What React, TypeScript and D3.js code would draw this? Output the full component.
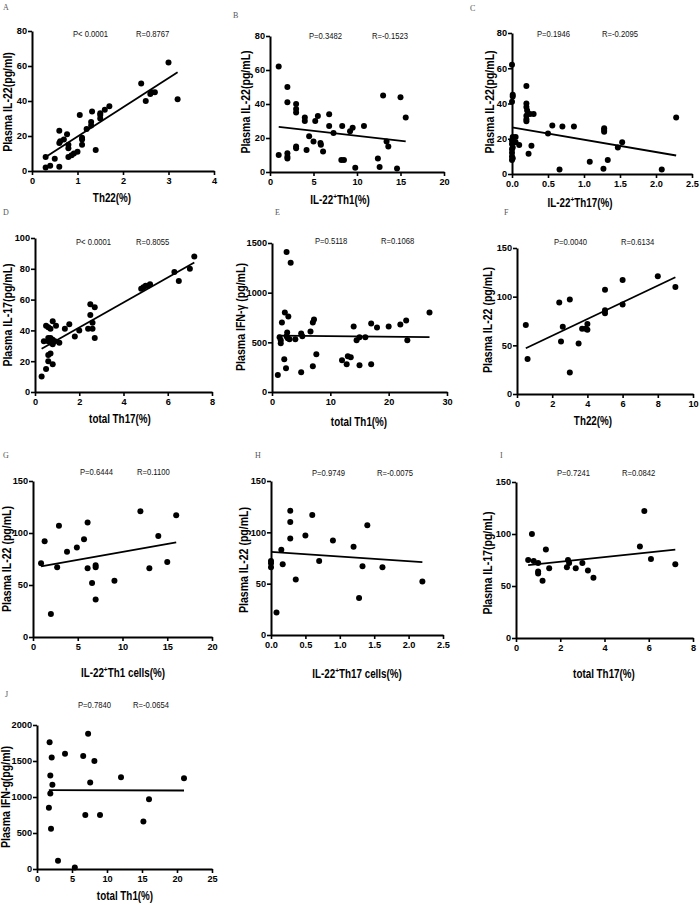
import { useEffect, useRef } from 'react';
import * as d3 from 'd3';

// scatter data, [x, y]
const th22VsIl22 = [
  [0.3, 8], [0.3, 2], [0.4, 3], [0.5, 7], [0.6, 2.5], [0.6, 16], [0.62, 17], [0.6, 23], [0.7, 18],
  [0.77, 21], [0.8, 15], [0.8, 13], [0.8, 8], [0.87, 9], [0.92, 10], [1.0, 11], [1.05, 32], [1.1, 18],
  [1.1, 15], [1.1, 19], [1.2, 24], [1.3, 26], [1.3, 28], [1.32, 34], [1.4, 12], [1.5, 30], [1.5, 32],
  [1.5, 33], [1.6, 35], [1.7, 37], [2.4, 50], [2.5, 40], [2.6, 44], [2.63, 45], [2.7, 45], [3.0, 62], [3.2, 41],
];
const il22Th1VsIl22 = [
  [1, 62], [1, 10], [2, 50], [2, 41], [2, 11], [2, 9], [2, 8], [3, 40], [3, 37], [3, 35], [3, 15], [3, 14],
  [4, 32], [4, 30], [4.2, 13], [4.5, 21], [5, 18], [5.2, 30], [5.5, 33], [5.8, 17], [5.85, 16], [6.1, 12],
  [6.8, 34], [6.8, 27], [7.3, 23], [8.2, 7], [8.3, 27], [8.5, 7], [9.2, 24], [9.5, 26], [9.8, 2.5],
  [10.8, 27], [12.4, 8], [12.6, 3], [13, 45], [13.4, 18], [13.6, 15], [14.6, 2], [15, 44], [15.6, 32],
];
const il22Th17VsIl22 = [
  [0, 62], [0.01, 45], [0.01, 44], [0, 41], [0.01, 21], [0, 19], [0, 17], [0.01, 15], [0, 14], [0, 12],
  [0, 10], [0.01, 9], [0, 8], [0.05, 21], [0.05, 18], [0.1, 16.5], [0.2, 50], [0.2, 40], [0.2, 38],
  [0.21, 36], [0.2, 33], [0.2, 31], [0.2, 30], [0.23, 11.5], [0.25, 34], [0.27, 16], [0.3, 34],
  [0.5, 23], [0.56, 27.5], [0.66, 2.5], [0.7, 27], [0.86, 27], [1.08, 7], [1.27, 3], [1.28, 26],
  [1.28, 25], [1.28, 24], [1.33, 8], [1.47, 15], [1.53, 18], [2.08, 2.5], [2.28, 32],
];
const th17VsIl17 = [
  [0.3, 10], [0.5, 15], [0.4, 33], [0.5, 43], [0.6, 20], [0.6, 24], [0.6, 33], [0.6, 35], [0.6, 42],
  [0.7, 25], [0.7, 41], [0.7, 35], [0.72, 32], [0.8, 18], [0.8, 34], [0.8, 46], [0.8, 31], [0.9, 33],
  [0.95, 43], [1.1, 32], [1.35, 41], [1.55, 44], [1.8, 36], [2.0, 40], [2.4, 41], [2.5, 57], [2.5, 50],
  [2.6, 41], [2.6, 45], [2.7, 55], [2.7, 35], [4.8, 67], [4.9, 68], [5.0, 69], [5.1, 69], [5.2, 70],
  [6.3, 78], [6.5, 72], [7.0, 80], [7.2, 88],
];
const th1VsIfn = [
  [1, 170], [1.3, 550], [1.5, 490], [1.5, 520], [1.7, 700], [2.1, 330], [2.2, 800], [2.4, 240],
  [2.5, 1410], [2.5, 560], [2.6, 600], [2.7, 540], [2.8, 760], [3.2, 1300], [3.0, 530], [4, 530],
  [5, 200], [5, 590], [5.2, 560], [6.6, 610], [7, 260], [7, 700], [7.2, 730], [7.6, 380], [12, 320],
  [12.8, 280], [13, 360], [13.5, 350], [14, 660], [14.5, 520], [15, 270], [15, 550], [16, 550],
  [17, 690], [17, 280], [18, 650], [20, 660], [22, 680], [23, 720], [23.2, 520], [27, 800],
];
const th22VsIl22b = [
  [0.5, 71], [0.6, 36], [2.4, 94], [2.5, 54], [2.6, 69], [3.0, 97], [3.0, 22], [3.5, 52], [3.7, 67],
  [3.9, 67], [4.0, 72], [4.0, 66], [5.0, 107], [5.0, 86], [5.0, 83], [6.0, 117], [6.0, 92], [8.0, 121], [9.0, 110],
];
const il22Th1CellsVsIl22 = [
  [0.9, 71], [1.3, 92], [2.0, 22], [2.7, 67], [2.9, 107], [3.8, 82], [4.9, 86], [5.7, 94], [6.1, 110],
  [6.1, 66], [6.6, 52], [7.0, 69], [7.0, 67], [7.0, 36], [9.1, 54], [12.0, 121], [13.0, 66], [14.0, 97],
  [15.0, 72], [16.0, 117],
];
const il22Th17CellsVsIl22 = [
  [0, 72], [0, 70], [0, 66], [0.08, 22], [0.15, 83], [0.17, 69], [0.28, 121], [0.28, 110], [0.28, 94],
  [0.36, 54], [0.5, 97], [0.6, 117], [0.7, 72], [0.9, 92], [1.2, 86], [1.28, 36], [1.33, 67], [1.4, 107],
  [1.62, 66], [2.2, 52],
];
const th17VsIl17b = [
  [0.55, 75], [0.72, 100], [0.8, 74], [1.0, 72], [1.0, 64], [1.0, 62], [1.2, 55], [1.35, 85], [1.5, 67],
  [2.3, 68], [2.35, 75], [2.4, 72], [2.7, 67], [3.0, 72], [3.25, 65], [3.5, 58], [5.6, 88], [5.8, 122],
  [6.1, 76], [7.2, 71],
];
const th1VsIfnb = [
  [1.8, 1760], [2.1, 1550], [1.9, 1300], [2.2, 1170], [1.9, 1050], [1.7, 850], [2.0, 560], [3.0, 115],
  [4.0, 1600], [5.4, 20], [6.6, 1570], [6.9, 750], [7.3, 1880], [7.6, 1200], [8.2, 1500], [9.0, 750],
  [12, 1275], [15.2, 660], [16, 970], [21, 1260],
];

// fitted lines [slope, intercept]
const fits = [
  [16.7, 3.0], [-0.582, 27.1], [-7.02, 26.5], [8.12, 25.6], [-0.58, 568.6],
  [8.59, 42.7], [1.52, 66.6], [-4.55, 81], [2.26, 68.8], [-0.26, 1095.4],
];

const pValues = ['P< 0.0001', 'P=0.3482', 'P=0.1946', 'P< 0.0001', 'P=0.5118', 'P=0.0040', 'P=0.6444', 'P=0.9749', 'P=0.7241', 'P=0.7840'];
const rValues = ['R=0.8767', 'R=-0.1523', 'R=-0.2095', 'R=0.8055', 'R=0.1068', 'R=0.6134', 'R=0.1100', 'R=-0.0075', 'R=0.0842', 'R=-0.0654'];

const letters = ['A', 'B', 'C', 'D', 'E', 'F', 'G', 'H', 'I', 'J'];
const yTitles = [
  'Plasma IL-22(pg/ml)', 'Plasma IL-22(pg/mL)', 'Plasma IL-22(pg/mL)', 'Plasma IL-17(pg/mL)',
  'Plasma IFN-γ (pg/mL)', 'Plasma IL-22 (pg/mL)', 'Plasma IL-22 (pg/mL)', 'Plasma IL-22 (pg/mL)',
  'Plasma IL-17(pg/mL)', 'Plasma IFN-g(pg/ml)',
];
// [before superscript, superscript, after]
const xTitles = [
  ['Th22(%)', '', ''], ['IL-22', '+', 'Th1(%)'], ['IL-22', '+', 'Th17(%)'], ['total Th17(%)', '', ''],
  ['total Th1(%)', '', ''], ['Th22(%)', '', ''], ['IL-22', '+', 'Th1 cells(%)'], ['IL-22', '+', 'Th17 cells(%)'],
  ['total Th17(%)', '', ''], ['total Th1(%)', '', ''],
];
const xTicks = [
  [0, 1, 2, 3, 4], [0, 5, 10, 15, 20], [0, 0.5, 1, 1.5, 2, 2.5], [0, 2, 4, 6, 8], [0, 10, 20, 30],
  [0, 2, 4, 6, 8, 10], [0, 5, 10, 15, 20], [0, 0.5, 1, 1.5, 2, 2.5], [0, 2, 4, 6, 8], [0, 5, 10, 15, 20, 25],
];
const yTicks = [
  [0, 20, 40, 60, 80], [0, 20, 40, 60, 80], [0, 20, 40, 60, 80], [0, 20, 40, 60, 80, 100], [0, 500, 1000, 1500],
  [0, 50, 100, 150], [0, 50, 100, 150], [0, 50, 100, 150], [0, 50, 100, 150], [0, 500, 1000, 1500, 2000],
];
const allPoints = [
  th22VsIl22, il22Th1VsIl22, il22Th17VsIl22, th17VsIl17, th1VsIfn,
  th22VsIl22b, il22Th1CellsVsIl22, il22Th17CellsVsIl22, th17VsIl17b, th1VsIfnb,
];

// layout: plot box [left, right, top, bottom], letter, title and stats positions
const boxes = [
  [32, 214, 31, 171], [270, 444, 36, 172], [512, 692, 33, 174],
  [35, 212, 238, 392], [272, 447, 243, 392], [517, 693, 248, 394],
  [33, 212, 481, 637], [271, 443, 481, 635], [516, 693, 482, 638],
  [37, 212, 725, 869],
];
const letterPos = [[3, 10], [233, 18], [470, 11], [3, 215], [275, 215], [504, 215], [3, 458], [255, 458], [500, 458], [5, 697]];
const xTitlePos = [[112, 202], [340, 204], [580, 207], [120, 423], [359, 426], [593, 425], [123, 677], [357, 678], [604, 678], [125, 900]];
const yTitlePos = [[8, 102], [246, 102], [490, 102], [8, 315], [241, 317], [488, 320], [7, 559], [244, 560], [488, 563], [6, 797]];
const statPos = [
  [73, 136, 37], [309, 372, 39], [537, 602, 37], [76, 136, 245], [315, 381, 244],
  [554, 621, 245], [80, 137, 475], [312, 377, 476], [557, 622, 476], [78, 133, 708],
];

const FONT = 'Liberation Sans, Arial, sans-serif';

function Panel({ i }: { i: number }) {
  const xRef = useRef<SVGGElement>(null);
  const yRef = useRef<SVGGElement>(null);
  const [left, right, top, bottom] = boxes[i];
  const xt = xTicks[i];
  const yt = yTicks[i];
  const x = d3.scaleLinear().domain([xt[0], xt[xt.length - 1]]).range([left, right]);
  const y = d3.scaleLinear().domain([yt[0], yt[yt.length - 1]]).range([bottom, top]);
  const pts = allPoints[i];
  const [slope, icept] = fits[i];
  const [xMin, xMax] = d3.extent(pts, (d) => d[0]) as [number, number];
  const line = d3.line<number>().x((v) => x(v)).y((v) => y(icept + slope * v));
  const decimals = xt.some((v) => v % 1 !== 0);

  useEffect(() => {
    const ax = d3.axisBottom(x).tickValues(xt).tickSize(4).tickSizeOuter(0).tickPadding(2)
      .tickFormat(d3.format(decimals ? '.1f' : 'd') as any);
    const ay = d3.axisLeft(y).tickValues(yt).tickSize(4).tickSizeOuter(0).tickPadding(1)
      .tickFormat(d3.format('d') as any);
    [d3.select(xRef.current!).call(ax), d3.select(yRef.current!).call(ay)].forEach((g: any) => {
      g.select('.domain').attr('stroke', '#000').attr('stroke-width', 2);
      g.selectAll('.tick line').attr('stroke', '#000').attr('stroke-width', 1.6);
      g.selectAll('.tick text').attr('fill', '#000').attr('font-family', FONT)
        .attr('font-weight', 'bold').attr('font-size', 9.2);
    });
  }, []);

  const [xp, xs, xa] = xTitles[i];
  const [tx, ty] = xTitlePos[i];
  const [yx, yy] = yTitlePos[i];
  const [px, rx, sy] = statPos[i];

  return (
    <g>
      <text x={letterPos[i][0]} y={letterPos[i][1]} fontFamily="Liberation Serif, serif" fontSize={8} fill="#555">
        {letters[i]}
      </text>
      <g ref={xRef} transform={`translate(0,${bottom})`} />
      <g ref={yRef} transform={`translate(${left},0)`} />
      {pts.map((d, k) => (
        <circle key={k} cx={x(d[0])} cy={y(d[1])} r={3} fill="#000" />
      ))}
      <path d={line([xMin, xMax]) || ''} stroke="#000" strokeWidth={1.8} fill="none" />
      <g fontFamily={FONT} fontSize={9} fill="#111">
        <text transform={`translate(${px},${sy}) scale(0.85,1)`}>{pValues[i]}</text>
        <text transform={`translate(${rx},${sy}) scale(0.85,1)`}>{rValues[i]}</text>
      </g>
      <text transform={`translate(${tx},${ty}) scale(0.82,1)`} textAnchor="middle" fontFamily={FONT}
        fontWeight="bold" fontSize={12} fill="#000">
        {xp}
        {xs && <tspan fontSize={8} dy={-5}>{xs}</tspan>}
        {xa && <tspan dy={5}>{xa}</tspan>}
      </text>
      <text transform={`translate(${yx},${yy}) rotate(-90) scale(0.88,1)`} textAnchor="middle" dy="0.35em"
        fontFamily={FONT} fontWeight="bold" fontSize={12} fill="#000">
        {yTitles[i]}
      </text>
    </g>
  );
}

export default function App() {
  return (
    <svg width={700} height={905} style={{ position: 'absolute', left: 0, top: 0, background: '#fff' }}>
      <rect width={700} height={905} fill="#fff" />
      {letters.map((_, i) => (
        <Panel key={i} i={i} />
      ))}
    </svg>
  );
}
